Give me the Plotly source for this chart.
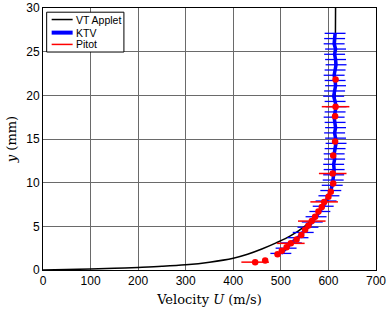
import plotly.graph_objects as go

# VT Applet profile (black line)
vt_u = [0, 50, 100, 150, 200, 250, 300, 350, 400, 430, 460, 490, 520, 550, 575, 590, 600, 607, 611, 613, 614, 615]
vt_y = [0, 0.05, 0.12, 0.2, 0.3, 0.42, 0.6, 0.9, 1.35, 1.8, 2.4, 3.1, 3.9, 5.0, 6.3, 7.4, 8.5, 9.8, 11.5, 14, 20, 30]

# KTV measurements (blue)
ktv_y = [1.9, 2.5, 3.1, 3.7, 4.3, 4.9, 5.5, 6.1, 6.7, 7.3, 7.9, 8.5, 9.1, 9.7, 10.3, 10.9, 11.5,
         12.1, 12.7, 13.3, 13.9, 14.5, 15.1, 15.7, 16.3, 16.9, 17.5, 18.1, 18.7, 19.3, 19.9, 20.5,
         21.1, 21.7, 22.3, 22.9, 23.5, 24.1, 24.7, 25.3, 25.9, 26.5, 27.1]
ktv_u = [500, 511, 522, 536, 547, 557, 566, 574, 582, 589, 595, 601, 605, 608, 610, 611, 612,
         611, 613, 612, 614, 616, 615, 613, 615, 614, 612, 614, 616, 614, 611, 613,
         615, 614, 612, 614, 616, 615, 613, 615, 612, 613, 614]
ktv_err = [22] * len(ktv_u)

# Pitot measurements (red)
pitot_u = [446, 467, 493, 502, 512, 521, 533, 543, 551, 558, 565, 572, 579, 586, 591, 600, 605,
           610, 609, 610, 614, 614, 615, 615]
pitot_y = [0.9, 1.1, 1.8, 2.2, 2.6, 3.05, 3.5, 4.0, 4.6, 5.1, 5.6, 6.1, 6.7, 7.2, 7.8, 8.4, 8.95,
           9.9, 11.05, 13.1, 14.7, 17.6, 18.7, 21.8]
pitot_err = [29, 0, 0, 0, 0, 29, 0, 0, 0, 0, 29, 0, 0, 0, 29, 0, 0, 0, 29, 0, 0, 0, 29, 0]

x_ticks = [0, 100, 200, 300, 400, 500, 600, 700]
y_ticks = [0, 5, 10, 15, 20, 25, 30]

legend_names = ["VT Applet", "KTV", "Pitot"]
legend_colors = ["black", "#0000ff", "#ff0000"]
legend_widths = [1.5, 4, 1.5]

fig = go.Figure()
fig.add_trace(go.Scatter(x=vt_u, y=vt_y, mode="lines", name="VT Applet",
                         line=dict(color="black", width=1.5, shape="spline")))
fig.add_trace(go.Scatter(x=ktv_u, y=ktv_y, mode="lines", name="KTV",
                         line=dict(color="#0000ff", width=3.5),
                         error_x=dict(type="data", array=ktv_err, color="#0000ff", thickness=1.3, width=0)))
fig.add_trace(go.Scatter(x=pitot_u, y=pitot_y, mode="markers", name="Pitot",
                         marker=dict(color="#ff0000", size=6.5),
                         error_x=dict(type="data", array=pitot_err, color="#ff0000", thickness=1.5, width=0)))

axis_common = dict(showline=True, linecolor="black", linewidth=1, mirror=True,
                   showgrid=True, gridcolor="#6a6a6a", gridwidth=1, zeroline=False,
                   ticks="", automargin=False,
                   tickfont=dict(family="Liberation Sans, Arial", size=12, color="black"))

# compact MATLAB-style legend box (inside the axes, top-left)
shapes = [dict(type="rect", xref="paper", yref="paper", x0=0.011, x1=0.243, y0=0.832, y1=0.984,
               line=dict(color="black", width=1), fillcolor="white", opacity=1, layer="above")]
annotations = []
row_y = [0.956, 0.906, 0.861]
for name, col, w, yy in zip(legend_names, legend_colors, legend_widths, row_y):
    shapes.append(dict(type="line", xref="paper", yref="paper", x0=0.026, x1=0.089, y0=yy, y1=yy,
                       line=dict(color=col, width=w), layer="above"))
    annotations.append(dict(xref="paper", yref="paper", x=0.094, y=yy, xanchor="left", yanchor="middle",
                            text=name, showarrow=False,
                            font=dict(family="Liberation Sans, Arial", size=10.5, color="black")))

fig.update_layout(
    width=388, height=310,
    margin=dict(l=43, r=12, t=8, b=40),
    paper_bgcolor="white", plot_bgcolor="white",
    showlegend=False,
    hovermode=False,
    xaxis=dict(range=[0, 700], tickvals=x_ticks, ticktext=[str(v) for v in x_ticks],
               title=dict(text="Velocity <i>U</i> (m/s)", font=dict(family="DejaVu Serif", size=13, color="black"),
                          standoff=7),
               **axis_common),
    yaxis=dict(range=[0, 30], tickvals=y_ticks, ticktext=[str(v) for v in y_ticks],
               title=dict(text="<i>y</i> (mm)", font=dict(family="DejaVu Serif", size=13, color="black"),
                          standoff=6),
               **axis_common),
    shapes=shapes,
    annotations=annotations,
)

fig.write_html("out.html", config={"displayModeBar": False},
               post_script="document.body.style.margin='0';")
